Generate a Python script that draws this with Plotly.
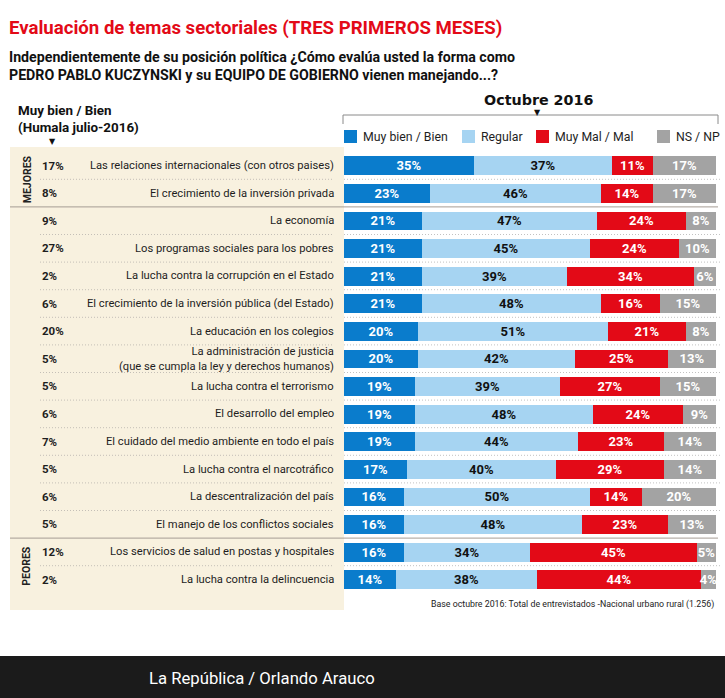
import plotly.graph_objects as go

# ---------------- data ----------------
temas = [
    "Las relaciones internacionales (con otros paises)",
    "El crecimiento de la inversión privada",
    "La economía",
    "Los programas sociales para los pobres",
    "La lucha contra la corrupción en el Estado",
    "El crecimiento de la inversión pública (del Estado)",
    "La educación en los colegios",
    "La administración de justicia<br>(que se cumpla la ley y derechos humanos)",
    "La lucha contra el terrorismo",
    "El desarrollo del empleo",
    "El cuidado del medio ambiente en todo el país",
    "La lucha contra el narcotráfico",
    "La descentralización del país",
    "El manejo de los conflictos sociales",
    "Los servicios de salud en postas y hospitales",
    "La lucha contra la delincuencia",
]
humala_julio_2016 = [17, 8, 9, 27, 2, 6, 20, 5, 5, 6, 7, 5, 6, 5, 12, 2]
muy_bien_bien = [35, 23, 21, 21, 21, 21, 20, 20, 19, 19, 19, 17, 16, 16, 16, 14]
regular = [37, 46, 47, 45, 39, 48, 51, 42, 39, 48, 44, 40, 50, 48, 34, 38]
muy_mal_mal = [11, 14, 24, 24, 34, 16, 21, 25, 27, 24, 23, 29, 14, 23, 45, 44]
ns_np = [17, 17, 8, 10, 6, 15, 8, 13, 15, 9, 14, 14, 20, 13, 5, 4]
series_names = ["Muy bien / Bien", "Regular", "Muy Mal / Mal", "NS / NP"]
grupos = [("MEJORES", 0, 1), ("PEORES", 14, 15)]

# ---------------- style ----------------
W, H = 725, 698
def px(x): return x / W
def py(y): return 1 - y / H

FONT = "Roboto, sans-serif"
colors = ["#0a7ccc", "#a6d4f2", "#e30a17", "#a3a3a3"]
txtcol = ["white", "#111111", "white", "white"]

fig = go.Figure()
for name, vals, c, tc in zip(series_names, [muy_bien_bien, regular, muy_mal_mal, ns_np], colors, txtcol):
    fig.add_trace(go.Bar(
        y=temas, x=vals, orientation="h", name=name,
        marker=dict(color=c, line=dict(width=0)),
        width=0.68,
        texttemplate="%{x}%", textposition="inside", insidetextanchor="middle",
        textangle=0,
        textfont=dict(color=tc, size=13, family=FONT, weight="bold"),
        showlegend=False, hoverinfo="skip",
    ))

n = len(temas)
shapes = []
ann = []

# beige left panel
shapes.append(dict(type="rect", xref="paper", yref="paper", x0=px(10), x1=px(344),
                   y0=py(610), y1=py(147), fillcolor="#f8f1df", line=dict(width=0), layer="below"))

# separators
seps_solid = [1.5, 13.5]
for i in range(n - 1):
    yv = i + 0.5
    if yv in seps_solid:
        shapes.append(dict(type="line", xref="paper", yref="y", x0=px(10), x1=px(718), y0=yv, y1=yv,
                           line=dict(color="#a59d94", width=1)))
    else:
        shapes.append(dict(type="line", xref="paper", yref="y", x0=px(40), x1=px(333), y0=yv, y1=yv,
                           line=dict(color="#c4bfb7", width=1, dash="1px,2px")))
        shapes.append(dict(type="line", xref="paper", yref="y", x0=px(344), x1=px(720), y0=yv, y1=yv,
                           line=dict(color="#c2c2c2", width=1, dash="1px,2px")))

# row labels
for t, p in zip(temas, humala_julio_2016):
    ann.append(dict(xref="paper", yref="y", x=px(336), y=t, text=t, xanchor="right", yanchor="middle",
                    align="right", showarrow=False, font=dict(family=FONT, size=11.2, color="#1e1e1e")))
    ann.append(dict(xref="paper", yref="y", x=px(40), y=t, text=f"{p}%", xanchor="left", yanchor="middle",
                    showarrow=False, font=dict(family=FONT, size=11.5, color="#1e1e1e", weight="bold")))

# group vertical labels
for g, a, b in grupos:
    ann.append(dict(xref="paper", yref="y", x=px(27), y=(a + b) / 2, text=g, textangle=-90,
                    xanchor="center", yanchor="middle", showarrow=False,
                    font=dict(family=FONT, size=10.5, color="#222222", weight="bold")))

# legend (manual)
leg_x = [344, 462, 536, 657]
for x0, name, c in zip(leg_x, series_names, colors):
    shapes.append(dict(type="rect", xref="paper", yref="paper", x0=px(x0), x1=px(x0 + 13),
                       y0=py(143), y1=py(130), fillcolor=c, line=dict(width=0)))
    ann.append(dict(xref="paper", yref="paper", x=px(x0 + 17), y=py(137), text=name, xanchor="left",
                    yanchor="middle", showarrow=False, font=dict(family=FONT, size=12.3, color="#1e1e1e")))

# legend bracket
shapes.append(dict(type="line", xref="paper", yref="paper", x0=px(343), x1=px(718), y0=py(115), y1=py(115),
                   line=dict(color="#8a8a8a", width=1)))
shapes.append(dict(type="line", xref="paper", yref="paper", x0=px(343), x1=px(343), y0=py(115), y1=py(124),
                   line=dict(color="#8a8a8a", width=1)))
shapes.append(dict(type="line", xref="paper", yref="paper", x0=px(718), x1=px(718), y0=py(115), y1=py(124),
                   line=dict(color="#8a8a8a", width=1)))

ann.append(dict(xref="paper", yref="paper", x=px(538), y=py(100), text="Octubre 2016", xanchor="center",
                yanchor="middle", showarrow=False, font=dict(family="DejaVu Sans", size=14.3, color="#111111", weight="bold")))
ann.append(dict(xref="paper", yref="paper", x=px(537), y=py(112), text="▼", xanchor="center",
                yanchor="middle", showarrow=False, font=dict(family="DejaVu Sans", size=8, color="#111111")))

# left header
ann.append(dict(xref="paper", yref="paper", x=px(16), y=py(119), text="Muy bien / Bien<br>(Humala julio-2016)",
                xanchor="left", yanchor="middle", align="left", showarrow=False,
                font=dict(family=FONT, size=13.4, color="#111111", weight="bold")))
ann.append(dict(xref="paper", yref="paper", x=px(52), y=py(141), text="▼", xanchor="center",
                yanchor="middle", showarrow=False, font=dict(family="DejaVu Sans", size=8, color="#111111")))

# title and subtitle
ann.append(dict(xref="paper", yref="paper", x=px(7), y=py(28), text="Evaluación de temas sectoriales (TRES PRIMEROS MESES)",
                xanchor="left", yanchor="middle", showarrow=False,
                font=dict(family=FONT, size=18.6, color="#e30a17", weight="bold")))
ann.append(dict(xref="paper", yref="paper", x=px(7), y=py(66),
                text="Independientemente de su posición política ¿Cómo evalúa usted la forma como<br>PEDRO PABLO KUCZYNSKI y su EQUIPO DE GOBIERNO vienen manejando...?",
                xanchor="left", yanchor="middle", align="left", showarrow=False,
                font=dict(family=FONT, size=14.2, color="#111111", weight="bold")))

# base note
ann.append(dict(xref="paper", yref="paper", x=px(716), y=py(604),
                text="Base octubre 2016: Total de entrevistados -Nacional urbano rural (1.256)",
                xanchor="right", yanchor="middle", showarrow=False,
                font=dict(family=FONT, size=8.8, color="#222222")))

# footer
shapes.append(dict(type="rect", xref="paper", yref="paper", x0=0, x1=1, y0=0, y1=py(656),
                   fillcolor="#1b1b1b", line=dict(width=0)))
ann.append(dict(xref="paper", yref="paper", x=px(147), y=py(678), text="La República / Orlando Arauco",
                xanchor="left", yanchor="middle", showarrow=False,
                font=dict(family=FONT, size=16.7, color="white")))

fig.update_layout(
    width=W, height=H, margin=dict(l=0, r=0, t=0, b=0),
    paper_bgcolor="white", plot_bgcolor="rgba(0,0,0,0)",
    barmode="stack", bargap=0,
    uniformtext=dict(minsize=13, mode="show"),
    xaxis=dict(domain=[px(344), px(716)], range=[0, 100], visible=False, fixedrange=True),
    yaxis=dict(domain=[py(593.3), py(151.7)], type="category", categoryorder="array",
               categoryarray=temas, autorange="reversed", visible=False, fixedrange=True),
    shapes=shapes, annotations=ann,
)

fig.write_html("out.html", config={"displayModeBar": False},
               post_script="document.body.style.margin='0px';document.body.style.overflow='hidden';")
